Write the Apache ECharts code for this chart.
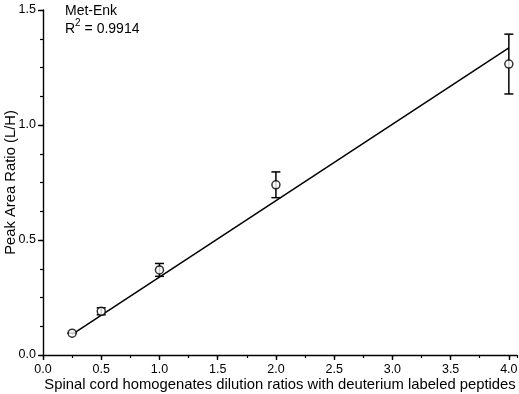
<!DOCTYPE html>
<html>
<head>
<meta charset="utf-8">
<script src="https://cdn.jsdelivr.net/npm/echarts@6/dist/echarts.min.js"></script>
<style>
  html, body { margin: 0; padding: 0; background: #fff; }
  #chart { width: 519px; height: 394px; }
</style>
</head>
<body>
<div id="chart"></div>
<script>
// Dilution ratios and measured light/heavy peak area ratios
const dilution = [0.25, 0.5, 1.0, 2.0, 4.0];
const ratioMean = [0.095, 0.19, 0.37, 0.74, 1.265];
const ratioErr = [0.0, 0.015, 0.028, 0.056, 0.13];

// Fitted regression line end points
const fitX = [0.25, 4.0];
const fitY = [0.09, 1.335];

const xTicks = ['0.0', '0.5', '1.0', '1.5', '2.0', '2.5', '3.0', '3.5', '4.0'];
const yTicks = ['0.0', '0.5', '1.0', '1.5'];

const FONT = '"Liberation Sans", Arial, sans-serif';
const X_MAX = 4.07;

const points = dilution.map((x, i) => [x, ratioMean[i]]);
const errData = dilution.map((x, i) => [x, ratioMean[i] - ratioErr[i], ratioMean[i] + ratioErr[i]]);
const fitLine = fitX.map((x, i) => [x, fitY[i]]);

const chart = echarts.init(document.getElementById('chart'), null, { renderer: 'canvas' });

const tickLine = { color: '#000', width: 1.4 };

chart.setOption({
  animation: false,
  backgroundColor: '#fff',
  grid: { left: 43, top: 10, right: 2, bottom: 39, containLabel: false, outerBoundsMode: 'none' },
  xAxis: [
    {
      type: 'value',
      min: 0,
      max: X_MAX,
      interval: 0.5,
      name: 'Spinal cord homogenates dilution ratios with deuterium labeled peptides',
      nameLocation: 'middle',
      nameGap: 22,
      nameMoveOverlap: false,
      nameTextStyle: { fontFamily: FONT, fontSize: 14.8, color: '#000' },
      axisLine: { show: true, lineStyle: { color: '#000', width: 1.4 } },
      axisTick: { show: true, inside: false, length: 5, lineStyle: tickLine },
      axisLabel: {
        fontFamily: FONT, fontSize: 12.5, color: '#000', margin: 8,
        showMaxLabel: false,
        formatter: v => {
          const t = xTicks[Math.round(v / 0.5)];
          return t !== undefined ? t : '';
        }
      },
      splitLine: { show: false },
      z: 5
    },
    {
      // minor ticks every 0.25
      type: 'value',
      position: 'bottom',
      min: 0,
      max: X_MAX,
      interval: 0.25,
      axisLine: { show: false },
      axisTick: { show: true, inside: false, length: 3, lineStyle: { color: '#000', width: 1.2 } },
      axisLabel: { show: false },
      splitLine: { show: false }
    }
  ],
  yAxis: [
    {
      type: 'value',
      min: 0,
      max: 1.5,
      interval: 0.5,
      name: 'Peak Area Ratio (L/H)',
      nameLocation: 'middle',
      nameGap: 25,
      nameMoveOverlap: false,
      nameTextStyle: { fontFamily: FONT, fontSize: 14.8, color: '#000' },
      axisLine: { show: true, lineStyle: { color: '#000', width: 1.4 } },
      axisTick: { show: true, inside: false, length: 5, lineStyle: tickLine },
      axisLabel: {
        fontFamily: FONT, fontSize: 12.5, color: '#000', margin: 7,
        formatter: v => yTicks[Math.round(v / 0.5)]
      },
      splitLine: { show: false },
      z: 5
    },
    {
      // minor ticks every 0.125
      type: 'value',
      position: 'left',
      min: 0,
      max: 1.5,
      interval: 0.125,
      axisLine: { show: false },
      axisTick: { show: true, inside: false, length: 3, lineStyle: { color: '#000', width: 1.2 } },
      axisLabel: { show: false },
      splitLine: { show: false }
    }
  ],
  graphic: [
    {
      type: 'text',
      left: 65,
      top: 4,
      style: {
        text: 'Met-Enk',
        font: '14px ' + FONT,
        fill: '#000'
      }
    },
    {
      type: 'text',
      left: 65,
      top: 18,
      style: {
        text: '{n|R}{s|2}{n| = 0.9914}',
        fill: '#000',
        rich: {
          n: { fontFamily: FONT, fontSize: 14, color: '#000', lineHeight: 18, verticalAlign: 'bottom' },
          s: { fontFamily: FONT, fontSize: 10, color: '#000', lineHeight: 18, verticalAlign: 'top' }
        }
      }
    }
  ],
  series: [
    {
      name: 'fit',
      type: 'line',
      data: fitLine,
      symbol: 'none',
      lineStyle: { color: '#000', width: 1.5 },
      z: 2
    },
    {
      name: 'error',
      type: 'custom',
      data: errData,
      renderItem: (params, api) => {
        const x = api.value(0);
        const lo = api.coord([x, api.value(1)]);
        const hi = api.coord([x, api.value(2)]);
        const half = 4.5;
        const style = { stroke: '#000', lineWidth: 1.5, fill: null };
        return {
          type: 'group',
          children: [
            { type: 'line', shape: { x1: lo[0], y1: lo[1], x2: hi[0], y2: hi[1] }, style },
            { type: 'line', shape: { x1: lo[0] - half, y1: lo[1], x2: lo[0] + half, y2: lo[1] }, style },
            { type: 'line', shape: { x1: hi[0] - half, y1: hi[1], x2: hi[0] + half, y2: hi[1] }, style }
          ]
        };
      },
      encode: { x: 0, y: [1, 2] },
      z: 3
    },
    {
      name: 'mean',
      type: 'scatter',
      data: points,
      symbol: 'circle',
      symbolSize: 8,
      itemStyle: { color: '#fff', borderColor: '#000', borderWidth: 1.5 },
      z: 4
    }
  ]
});
</script>
</body>
</html>
